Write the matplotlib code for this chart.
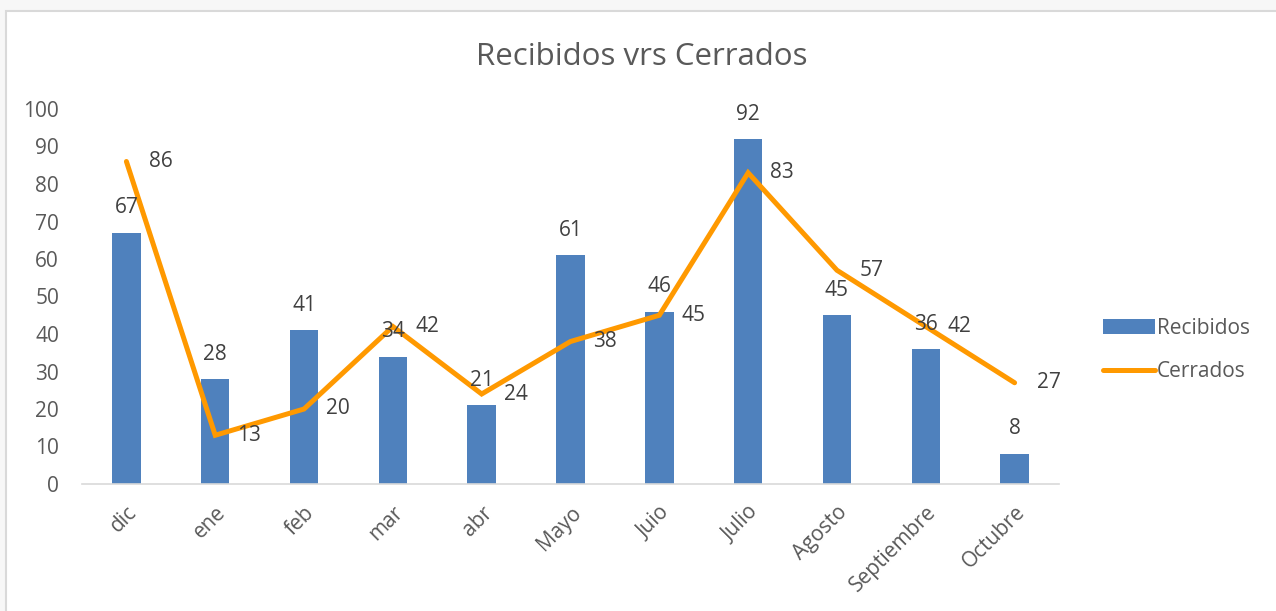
import matplotlib
matplotlib.use("Agg")
import matplotlib.pyplot as plt
from matplotlib.patches import Rectangle
import numpy as np

categories = ["dic", "ene", "feb", "mar", "abr", "Mayo", "Juio", "Julio", "Agosto", "Septiembre", "Octubre"]
recibidos = [67, 28, 41, 34, 21, 61, 46, 92, 45, 36, 8]
cerrados = [86, 13, 20, 42, 24, 38, 45, 83, 57, 42, 27]

plt.rcParams['font.family'] = ['Open Sans', 'DejaVu Sans']
txt = '#595959'
blue = '#4F81BD'
orange = '#FF9900'
fs = 15

fig = plt.figure(figsize=(12.76, 6.11), dpi=100)
fig.patch.set_facecolor('#F7F7F7')
bg = fig.add_axes([0, 0, 1, 1], zorder=-10)
bg.set_axis_off()
bg.set_xlim(0, 1276)
bg.set_ylim(611, 0)
bg.add_patch(Rectangle((6, 11), 1276, 611, facecolor='white', edgecolor='#D9D9D9', lw=1.5))

ax = fig.add_axes([82/1276, 1 - 484/611, (1059 - 82)/1276, (484 - 109)/611])
ax.set_facecolor('none')
x = np.arange(len(categories))
hb = ax.bar(x, recibidos, width=0.32, color=blue, label='Recibidos', zorder=2)
hl, = ax.plot(x, cerrados, color=orange, lw=3.6, solid_joinstyle='miter', solid_capstyle='round',
              label='Cerrados', zorder=3)

for xi, v in zip(x, recibidos):
    ax.annotate(str(v), (xi, v), xytext=(0, 18), textcoords='offset points',
                ha='center', va='center', fontsize=fs, color='#404040')
for xi, v in zip(x, cerrados):
    ax.annotate(str(v), (xi, v), xytext=(16, 0), textcoords='offset points',
                ha='left', va='center', fontsize=fs, color='#404040')

ax.set_xlim(-0.5, len(categories) - 0.5)
ax.set_ylim(0, 100)
ax.set_yticks(range(0, 101, 10))
ax.set_xticks(x)
ax.set_xticklabels(categories, rotation=45, ha='right', rotation_mode='anchor')
ax.tick_params(axis='both', length=0, labelsize=fs, colors=txt)
ax.tick_params(axis='y', pad=16.5)
ax.tick_params(axis='x', pad=13)
for s in ['top', 'right', 'left']:
    ax.spines[s].set_visible(False)
ax.spines['bottom'].set_color('#D9D9D9')
ax.spines['bottom'].set_linewidth(1.2)

fig.text((472 + 811) / 2 / 1276, 1 - 57 / 611, 'Recibidos vrs Cerrados', ha='center', va='center',
         fontsize=22.5, color=txt)

fig.legend([hb, hl], ['Recibidos', 'Cerrados'], loc='center left',
           bbox_to_anchor=(1084/1276, 1 - 350/611), frameon=False,
           fontsize=fs, labelcolor=txt, handlelength=2.5, handletextpad=0.1,
           labelspacing=1.1)

fig.savefig('out.png', dpi=100)
